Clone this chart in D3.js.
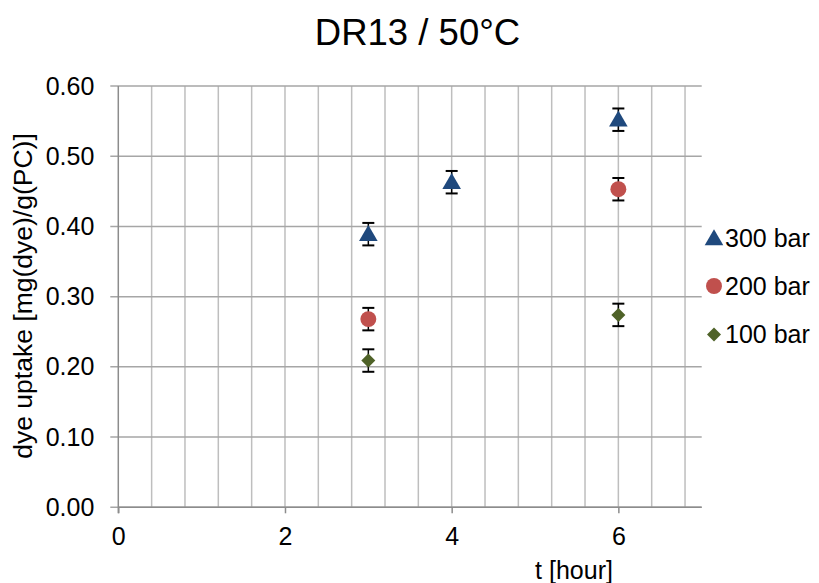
<!DOCTYPE html>
<html>
<head>
<meta charset="utf-8">
<script src="https://cdn.jsdelivr.net/npm/d3@7/dist/d3.min.js"></script>
<style>
  html, body { margin: 0; padding: 0; background: #fff; }
  svg { display: block; font-family: "Liberation Sans", Arial, sans-serif; }
</style>
</head>
<body>
<svg id="chart" width="819" height="583"></svg>
<script>
// Dye uptake of DR13 at 50 °C, per pressure level
const hours300 = [3, 4, 6];
const uptake300 = [0.389, 0.463, 0.552];
const err300 = [0.016, 0.016, 0.016];

const hours200 = [3, 6];
const uptake200 = [0.268, 0.453];
const err200 = [0.016, 0.016];

const hours100 = [3, 6];
const uptake100 = [0.209, 0.274];
const err100 = [0.016, 0.016];

const seriesNames = ["300 bar", "200 bar", "100 bar"];
const xTickValues = [0, 2, 4, 6];
const yTickValues = [0, 0.1, 0.2, 0.3, 0.4, 0.5, 0.6];

const series = [
  { name: seriesNames[0], x: hours300, y: uptake300, e: err300, shape: d3.symbolTriangle, color: "#1F497D" },
  { name: seriesNames[1], x: hours200, y: uptake200, e: err200, shape: d3.symbolCircle, color: "#C0504D" },
  { name: seriesNames[2], x: hours100, y: uptake100, e: err100, shape: d3.symbolDiamond2, color: "#4F6228" }
];

const FONT = "Liberation Sans, Arial, sans-serif";
const svg = d3.select("#chart");
const x = d3.scaleLinear().domain([0, 7]).range([118.3, 701.7]);
const y = d3.scaleLinear().domain([0, 0.6]).range([507.3, 86]);

// vertical gridlines every 0.4 h
const vGrid = d3.range(0.4, 7, 0.4);
svg.append("g").selectAll("line").data(vGrid).join("line")
  .attr("x1", d => x(d)).attr("x2", d => x(d))
  .attr("y1", y(0.6)).attr("y2", y(0))
  .attr("stroke", "#BEBEBE").attr("stroke-width", 1.5);

// horizontal gridlines (with left tick stubs)
svg.append("g").selectAll("line").data(yTickValues).join("line")
  .attr("x1", x(0) - 8).attr("x2", x(7))
  .attr("y1", d => y(d)).attr("y2", d => y(d))
  .attr("stroke", "#A6A6A6").attr("stroke-width", 1.5);

// axis lines
svg.append("line").attr("x1", x(0)).attr("x2", x(0)).attr("y1", y(0.6)).attr("y2", y(0) + 6)
  .attr("stroke", "#8C8C8C").attr("stroke-width", 1.5);
svg.append("line").attr("x1", x(0)).attr("x2", x(7)).attr("y1", y(0)).attr("y2", y(0))
  .attr("stroke", "#8C8C8C").attr("stroke-width", 1.5);

// x axis ticks and labels
const xAxis = d3.axisBottom(x).tickValues(xTickValues).tickSize(6).tickPadding(14).tickFormat(d3.format("d"));
const gx = svg.append("g").attr("transform", `translate(0,${y(0)})`).call(xAxis);
gx.select(".domain").remove();
gx.selectAll(".tick line").attr("stroke", "#8C8C8C").attr("stroke-width", 1.5);
gx.selectAll(".tick text").attr("font-size", 25).attr("fill", "#000").attr("font-family", FONT);

// y axis labels
const yAxis = d3.axisLeft(y).tickValues(yTickValues).tickSize(0).tickPadding(24).tickFormat(d3.format(".2f"));
const gy = svg.append("g").attr("transform", `translate(${x(0)},0)`).call(yAxis);
gy.select(".domain").remove();
gy.selectAll(".tick text").attr("font-size", 25).attr("fill", "#000").attr("font-family", FONT);

// error bars
const cap = 6;
series.forEach(s => {
  const g = svg.append("g");
  s.x.forEach((xv, i) => {
    const cx = x(xv), top = y(s.y[i] + s.e[i]), bot = y(s.y[i] - s.e[i]);
    g.append("line").attr("x1", cx).attr("x2", cx).attr("y1", top).attr("y2", bot)
      .attr("stroke", "#000").attr("stroke-width", 1.5);
    [top, bot].forEach(yy => g.append("line").attr("x1", cx - cap).attr("x2", cx + cap)
      .attr("y1", yy).attr("y2", yy).attr("stroke", "#000").attr("stroke-width", 2));
  });
});

// markers
const sizes = { "300 bar": 150, "200 bar": 200, "100 bar": 125 };
series.forEach(s => {
  const sym = d3.symbol().type(s.shape).size(sizes[s.name]);
  svg.append("g").selectAll("path").data(s.x.map((xv, i) => [xv, s.y[i]])).join("path")
    .attr("d", sym)
    .attr("transform", d => `translate(${x(d[0])},${y(d[1]) + (s.shape === d3.symbolTriangle ? 1.5 : 0)})`)
    .attr("fill", s.color);
});

// legend
const legendY = [238.5, 286, 334.5];
series.forEach((s, i) => {
  const sym = d3.symbol().type(s.shape).size(sizes[s.name]);
  svg.append("path").attr("d", sym)
    .attr("transform", `translate(714,${legendY[i] + (s.shape === d3.symbolTriangle ? 1.5 : 0)})`)
    .attr("fill", s.color);
  svg.append("text").attr("x", 725).attr("y", legendY[i] + 8.5)
    .attr("font-size", 25).attr("fill", "#000").text(s.name);
});

// title and axis titles
svg.append("text").attr("x", 417.5).attr("y", 45).attr("text-anchor", "middle")
  .attr("font-size", 36.5).attr("fill", "#000").text("DR13 / 50°C");
svg.append("text").attr("x", 574).attr("y", 579).attr("text-anchor", "middle")
  .attr("font-size", 25).attr("fill", "#000").text("t [hour]");
svg.append("text").attr("transform", `translate(32,296) rotate(-90)`)
  .attr("text-anchor", "middle").attr("font-size", 26.5).attr("fill", "#000")
  .text("dye uptake [mg(dye)/g(PC)]");
</script>
</body>
</html>
